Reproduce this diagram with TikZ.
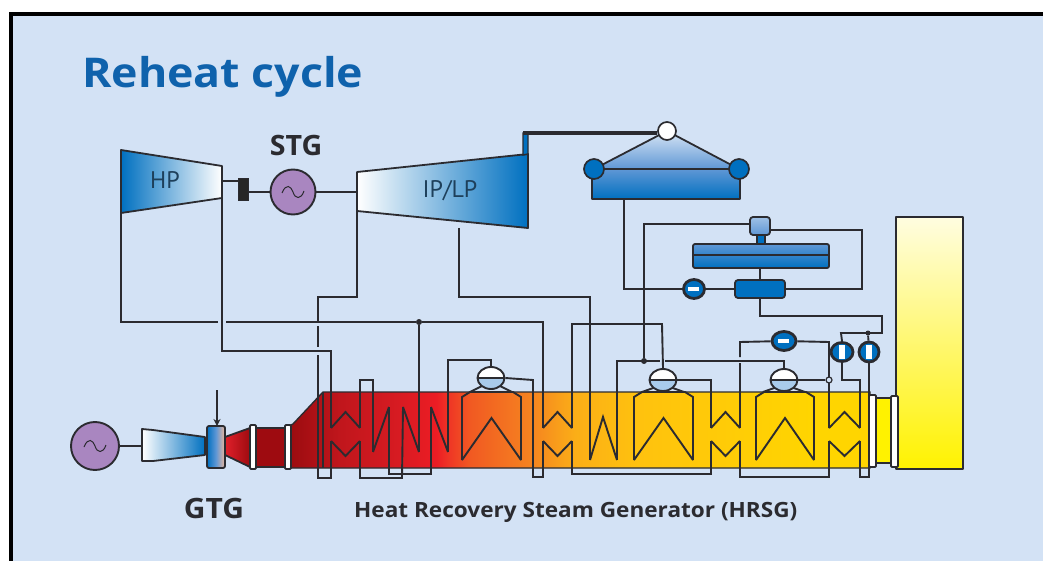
\documentclass[tikz,border=0pt]{standalone}
\usepackage{graphicx}
\usepackage{fontspec}
\setmainfont{Open Sans}
\newfontfamily\ptsans{PT Sans}
\usetikzlibrary{shapes.geometric,arrows.meta}
\definecolor{bgblue}{HTML}{D3E2F5}
\definecolor{ink}{HTML}{2B2B30}
\definecolor{tubeblue}{HTML}{0070C0}
\definecolor{midblue}{HTML}{5F97D5}
\definecolor{titleblue}{HTML}{0F62AC}
\definecolor{gen}{HTML}{A986C0}
\definecolor{drumblue}{HTML}{A9CBEB}
\definecolor{ductyellow}{HTML}{FFF200}
\definecolor{darkred}{HTML}{9E0B10}
\definecolor{hotred}{HTML}{E0202A}
\definecolor{salmon}{HTML}{EDB79A}
\definecolor{stacktop}{HTML}{FFFDE0}
\definecolor{hA}{HTML}{9C0C10}\definecolor{hB}{HTML}{C0161C}\definecolor{hC}{HTML}{D81B22}
\definecolor{hD}{HTML}{EC1C24}\definecolor{hE}{HTML}{EF3525}\definecolor{hF}{HTML}{F15A22}
\definecolor{hG}{HTML}{F58220}\definecolor{hH}{HTML}{FBAE17}\definecolor{hI}{HTML}{FFC20E}\definecolor{hJ}{HTML}{FFD500}
\pgfdeclarehorizontalshading{hrsgshade}{100bp}{%
color(0bp)=(hA);color(25bp)=(hA);color(29.2bp)=(hB);color(34.4bp)=(hC);color(37.5bp)=(hD);color(38.6bp)=(hE);color(40.5bp)=(hF);color(45.6bp)=(hG);color(49.5bp)=(hH);color(55bp)=(hI);color(70bp)=(hJ);color(100bp)=(hJ)}
\tikzset{
 pipe/.style={draw=ink,line width=1.9pt,line join=miter},
 outl/.style={draw=ink,line width=1.8pt,line join=round},
 gennode/.style={circle,draw=ink,line width=1.9pt,fill=gen,inner sep=0pt},
 pumpnode/.style={ellipse,draw=ink,line width=2.8pt,fill=tubeblue,inner sep=0pt,minimum width=22pt,minimum height=19pt},
 barh/.style={path picture={\fill[white] ([xshift=-6pt,yshift=2pt]path picture bounding box.center) rectangle ++(11pt,-4pt);}},
 barv/.style={path picture={\fill[white] ([xshift=-3pt,yshift=-7pt]path picture bounding box.center) rectangle ++(6pt,14pt);}},
 drumnode/.style={ellipse,draw=ink,line width=1.9pt,inner sep=0pt,minimum width=27pt,minimum height=22pt,
   path picture={\fill[white] (path picture bounding box.north west) rectangle (path picture bounding box.east);
   \fill[drumblue] (path picture bounding box.south west) rectangle (path picture bounding box.east);
   \draw[ink,line width=2.4pt] (path picture bounding box.west) -- (path picture bounding box.east);}},
 txt/.style={font=\bfseries,text=ink,inner sep=0pt},
 dot/.style={circle,fill=ink,inner sep=0pt,minimum size=6pt},
}
\newcommand{\chev}[3]{%
 \coordinate (#1ul) at (#2,428); \coordinate (#1ur) at (#3,428);
 \coordinate (#1ll) at (#2,441); \coordinate (#1lr) at (#3,441);
 \draw[pipe] (#1ul) -- ({(#2+#3)/2},412) -- (#1ur);
 \draw[pipe] (#1ll) -- ({(#2+#3)/2},456) -- (#1lr);}
\newcommand{\evap}[3]{%
 \coordinate (#1l) at (#2,460); \coordinate (#1r) at (#3,460);
 \draw[pipe] (#1l) -- (#2,397) -- ({#2+8},392) -- ({#3-8},392) -- (#3,397) -- (#1r);
 \draw[pipe] (#1l) -- ({(#2+#3)/2},418) -- (#1r);}
\newcommand{\drumlegs}[2]{%
 \draw[pipe] ({#1-21},392) -- ({#1-7},{#2+7}); \draw[pipe] ({#1+7},{#2+7}) -- ({#1+21},392);}
\newcommand{\gentilde}[2]{\draw[ink,line width=1pt] ({#1-11},{#2+1}) .. controls ({#1-7},{#2-9}) and ({#1-2},{#2-6}) .. (#1,#2) .. controls ({#1+2},{#2+7}) and ({#1+8},{#2+8}) .. ({#1+11},{#2-1});}
\begin{document}
\begin{tikzpicture}[x=1pt,y=-1pt]
\useasboundingbox (0,0) rectangle (1043,561);
\fill[white] (0,0) rectangle (1043,561);
\fill[bgblue] (11,14) rectangle (1043,561);
\draw[black,line width=4pt] (11,561) -- (11,14) -- (1043,14);
\node[anchor=base west,inner sep=0pt,text=titleblue,font=\bfseries\fontsize{41}{41}\selectfont] (title) at (82,88) {\scalebox{1.09}[1]{Reheat cycle}};
\node[txt,font=\bfseries\fontsize{28}{28}\selectfont] (stg) at (296,146) {\scalebox{1.02}[1]{STG}};
\node[txt,font=\bfseries\fontsize{28}{28}\selectfont] (gtg) at (214,508) {\scalebox{1.07}[1]{GTG}};
\node[txt,anchor=base west,font=\bfseries\fontsize{21}{21}\selectfont] (hrsglabel) at (354,517) {\scalebox{1.075}[1]{Heat Recovery Steam Generator (HRSG)}};
% stack
\path[outl,top color=stacktop,bottom color=ductyellow] (896,217) rectangle (963,469);
% HRSG body
\path[shading=hrsgshade,draw=ink,line width=1.4pt] (291,425) -- (293,424) -- (323,392) -- (870,392) -- (870,468) -- (291,468) -- cycle;
\draw[pipe] (323,392) -- (323,468);
% end duct
\draw[fill=ductyellow,draw=ink,line width=1.4pt] (876,398) rectangle (891,463);
\draw[outl,fill=white,rounded corners=1pt] (869,395) rectangle (876,467);
\draw[outl,fill=white,rounded corners=1pt] (891,396) rectangle (898,467);
% GT train
\node[gennode,minimum size=48pt] (gen2) at (95,446) {};
\path[outl,left color=white,right color=tubeblue] (142,429) -- (153,430) -- (205,437) -- (205,455) -- (153,461) -- (142,461) -- cycle;
\coordinate (comp) at (142,446);
\path[outl,left color=tubeblue,right color=salmon,middle color=midblue,rounded corners=2pt] (207,426) rectangle (225,468);
\coordinate (fuel) at (217,390); \coordinate (comb) at (217,426);
\path[outl,left color=hotred,right color=darkred] (225,437) -- (250,428) -- (250,467) -- (225,455) -- cycle;
\draw[fill=darkred,draw=ink,line width=1.4pt] (256,428) rectangle (285,467);
\draw[outl,fill=white,rounded corners=1pt] (250,425) rectangle (256,469);
\draw[outl,fill=white,rounded corners=1pt] (285,425) rectangle (291,469);
\draw[pipe] (gen2) -- (comp);
\draw[pipe,-{Stealth[length=7pt,width=7pt]}] (fuel) -- (comb);
\gentilde{95}{446}
% Steam turbine train
\path[outl,left color=tubeblue,right color=white] (121,150) -- (222,166) -- (222,198) -- (121,213) -- cycle;
\node[text=ink!70!tubeblue,font=\ptsans\fontsize{24}{24}\selectfont,inner sep=0pt] (hp) at (165,180) {HP};
\path[outl,left color=white,right color=tubeblue] (357,172) -- (528,154) -- (528,228) -- (357,211) -- cycle;
\node[text=ink!70!tubeblue,font=\ptsans\fontsize{24}{24}\selectfont,inner sep=0pt] (iplp) at (450,191) {IP/LP};
\node[gennode,minimum size=45pt] (gen1) at (293,192) {};
\gentilde{293}{192}
\node[fill=black!85,draw=ink,minimum width=10pt,minimum height=22pt,inner sep=0pt] (coupling) at (243,189) {};
\draw[pipe] (222,181) -- (238,181);
\draw[pipe] (248,192) -- (gen1);
\draw[pipe] (gen1) -- (357,192);
% crossover and condenser
\draw[fill=tubeblue,draw=ink,line width=1.4pt] (523,155) -- (523,133) -- (528,133) -- (528,154) -- cycle;
\path[outl,top color=white!75!midblue,bottom color=midblue] (667,131) -- (594,169) -- (739,169) -- cycle;
\path[outl,top color=midblue,bottom color=tubeblue] (592,169) rectangle (740,199);
\node[circle,draw=ink,line width=1.7pt,fill=white,inner sep=0pt,minimum size=18pt] (steamin) at (667,131) {};
\node[circle,draw=ink,line width=1.7pt,fill=tubeblue,inner sep=0pt,minimum size=20pt] (condl) at (594,169) {};
\node[circle,draw=ink,line width=1.7pt,fill=tubeblue,inner sep=0pt,minimum size=20pt] (condr) at (739,169) {};
\draw[pipe] (condl) -- (condr);
\coordinate (xover) at (523,133);
\draw[ink,line width=3.4pt] (xover) -- (xover -| steamin.west);
\coordinate (condb) at (624,199);
% deaerator group
\path[outl,top color=midblue,bottom color=tubeblue,rounded corners=2pt] (693,244) rectangle (829,268);
\draw[pipe] (693,255) -- (829,255);
\draw[fill=tubeblue,draw=ink,line width=1.4pt] (757,233) rectangle (765,244);
\node[outl,top color=white!40!midblue,bottom color=midblue,rounded corners=3pt,inner sep=0pt,minimum width=20pt,minimum height=18pt] (dtop) at (760,226) {};
\node[outl,fill=tubeblue,rounded corners=3pt,inner sep=0pt,minimum width=50pt,minimum height=18pt] (tank) at (760,289) {};
\node[pumpnode,minimum width=21pt,minimum height=19pt,barh] (pcond) at (694,289) {};
\draw[pipe] (760,268) -- (tank.north);
\draw[pipe] (condb) |- (pcond);
\draw[pipe] (pcond) -- (tank);
\draw[pipe] (dtop.east |- 0,230) -| (862,289) -- (tank.east);
% coils
\chev{A}{331}{360}
\chev{C}{543}{572}
\chev{E}{711}{740}
\chev{G}{829}{860}
\evap{P}{462}{521}
\evap{Q}{634}{693}
\evap{R}{756}{814}
\coordinate (D1b) at (373,452); \coordinate (D1t) at (389,407);
\coordinate (D2t) at (403,407); \coordinate (D2b) at (419,452);
\coordinate (D3t) at (431,407); \coordinate (D3b) at (448,452);
\draw[pipe] (D1b) -- (D1t); \draw[pipe] (D2t) -- (D2b); \draw[pipe] (D3t) -- (D3b);
\coordinate (Wl) at (590,460); \coordinate (Wr) at (617,460);
\draw[pipe] (Wl) -- (603,417) -- (Wr);
% drums
\drumlegs{491}{378}\drumlegs{663}{380}\drumlegs{784}{380}
\node[drumnode] (dP) at (491,378) {};
\node[drumnode] (dQ) at (663,380) {};
\node[drumnode] (dR) at (784,380) {};
% pumps
\node[pumpnode,barh,minimum width=24pt,minimum height=19pt] (pmid) at (784,341) {};
\node[pumpnode,barv] (p1) at (842,352) {};
\node[pumpnode,barv,minimum width=20pt,minimum height=20pt] (p2) at (869,352) {};
% HP exhaust / cold reheat
\node[dot] (j1) at (419,322) {};
\draw[pipe] (121,213) -- (121,322) -- (218,322);
\draw[pipe] (226,322) -- (j1) -- (543,322) -- (Cul);
\draw[pipe] (j1) -- (D2b);
% HP inlet
\draw[pipe] (222,198) -- (222,351) -- (331,351) -- (Aul);
% IP inlet
\draw[pipe] (357,211) -- (357,297) -- (318,297) -- (318,322);
\draw[pipe] (318,326) -- (318,347);
\draw[pipe] (318,355) -- (318,478) -- (331,478) -- (All);
% LP inlet
\draw[pipe] (459,228) -- (459,297) -- (590,297) -- (Wl);
% coil links
\draw[pipe] (Aur) -- (360,380) -- (373,380) -- (D1b);
\draw[pipe] (Alr) -- (360,478) -- (402,478) -- (D2t);
\draw[pipe] (D1t) -- (389,474) -- (431,474) -- (D3t);
\draw[pipe] (D3b) -- (448,360) -- (491,360) -- (dP.north);
\draw[pipe] (dP.east) -- (533,380) -- (533,477) -- (543,477) -- (Cll);
\draw[pipe] (Cur) -- (572,324) -- (662,324) -- (dQ.north);
\draw[pipe] (Clr) -- (572,474) -- (711,474) -- (Ell);
\draw[pipe] (dQ.east) -- (711,380) -- (Eul);
% feed
\node[dot] (j2) at (644,361) {};
\draw[pipe] (Wr) -- (617,361) -- (660,361);
\draw[pipe] (665,361) -- (784,361) -- (dR.north);
\draw[pipe] (j2) -- (644,224) -- (dtop.west |- 0,224);
\draw[pipe] (Eur) -- (740,363);
\draw[pipe] (740,357) -- (740,342) -- (pmid);
\draw[pipe] (pmid) -- (829,342) -- (Gul);
\draw[pipe] (Elr) -- (740,477) -- (829,477) -- (Gll);
\node[circle,draw=ink,line width=1.2pt,fill=bgblue,inner sep=0pt,minimum size=6pt] (valve) at (829,380) {};
\draw[pipe] (dR.east) -- (valve);
\draw[pipe] (tank.south) -- (760,316) -- (882,316) -- (882,333) -- (841,333) -- (p1.north);
\node[dot,minimum size=5pt] (j3) at (868,333) {};
\draw[pipe] (j3) -- (p2);
\draw[pipe] (p1) -- (842,380) -- (860,380) -- (Gur);
\draw[pipe] (p2) -- (869,477) -- (860,477) -- (Glr);
\end{tikzpicture}
\end{document}
